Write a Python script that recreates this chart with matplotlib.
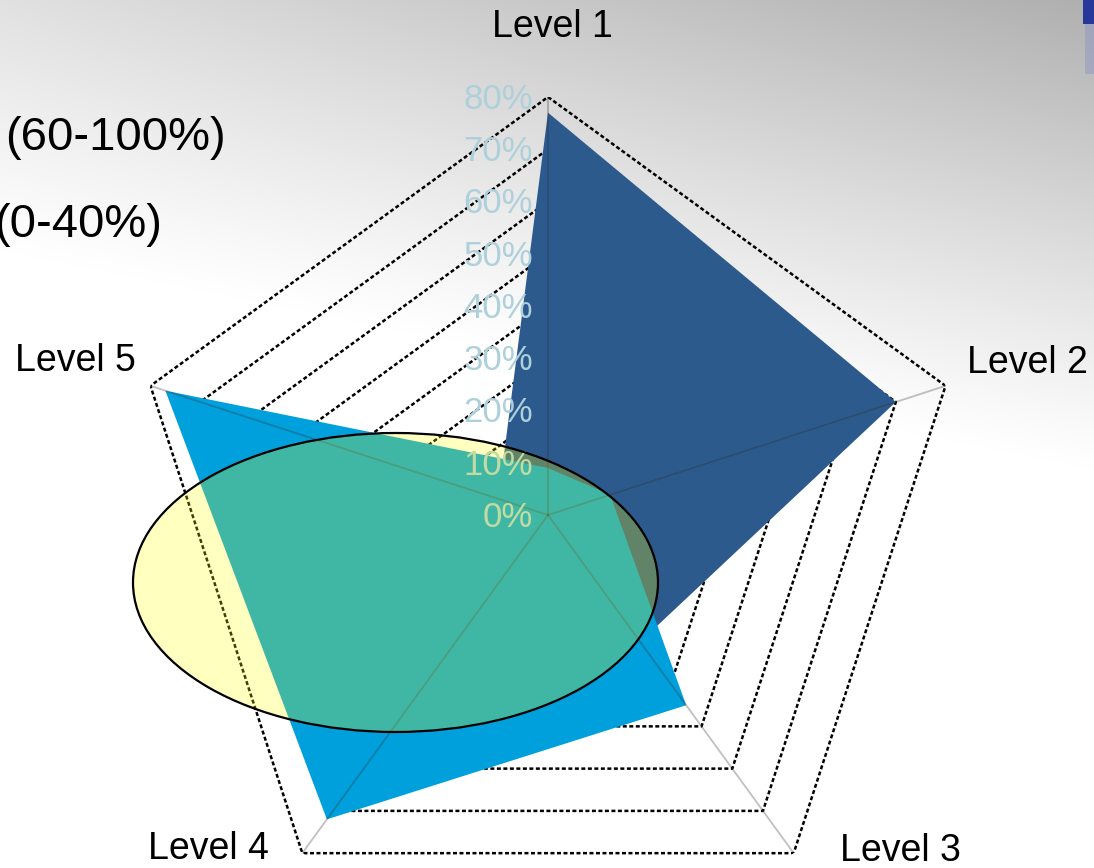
import matplotlib
matplotlib.use('Agg')
import matplotlib.pyplot as plt
from matplotlib.patches import Ellipse, Rectangle
import numpy as np

categories = ['Level 1', 'Level 2', 'Level 3', 'Level 4', 'Level 5']
ring_values = [0, 10, 20, 30, 40, 50, 60, 70, 80]
ring_labels = ['0%', '10%', '20%', '30%', '40%', '50%', '60%', '70%', '80%']
dark_series = [77, 70, 30, 10, 10]
light_series = [9, 12.5, 45, 72, 77]
range_notes = ['(60-100%)', '(0-40%)']

# pixel offsets of the category labels from their outer vertex
label_offsets = [(4, 60), (82, 13), (107, -8), (-94, -6), (-75, 15)]


def main():
    plt.rcParams['font.family'] = ['Liberation Sans', 'DejaVu Sans']

    w, h = 1094, 868
    cx, cy, radius = 548, 515, 418

    fig = plt.figure(figsize=(w / 100, h / 100), dpi=100)

    # background gradient, grey at the top fading to white
    bg = fig.add_axes([0, 0, 1, 1])
    bg.set_axis_off()
    ys, xs = np.mgrid[0:h, 0:w]
    limit = 250 + 0.2 * xs
    depth = 30 + 50 * xs / w
    t = np.clip(1 - ys / limit, 0, 1)
    val = (255 - depth * t ** 1.1) / 255
    bg.imshow(np.dstack([val, val, val]), extent=[0, w, h, 0], aspect='auto')
    bg.add_patch(Rectangle((1083, 0), 11, 24, color='#26399a', lw=0))
    bg.add_patch(Rectangle((1085, 24), 9, 50, color='#8f98c4', alpha=0.5, lw=0))
    bg.set_xlim(0, w)
    bg.set_ylim(h, 0)

    # radar chart
    ax = fig.add_axes([(cx - radius) / w, (h - cy - radius) / h, 2 * radius / w, 2 * radius / h],
                      projection='polar')
    ax.set_theta_zero_location('N')
    ax.set_theta_direction(-1)
    ax.set_ylim(0, 80)
    ax.grid(False)
    ax.set_xticks([])
    ax.set_yticks([])
    ax.spines['polar'].set_visible(False)
    ax.patch.set_alpha(0)

    angles = np.linspace(0, 2 * np.pi, len(categories), endpoint=False)
    closed = np.append(angles, angles[0])

    for v in ring_values[1:]:
        ax.plot(closed, [v] * len(closed), color='#000000', lw=1.8,
                ls=(0, (1.6, 1.0)), zorder=1)

    ax.fill(closed, dark_series + dark_series[:1], color='#2d5a8c', lw=0, zorder=2)
    ax.fill(closed, light_series + light_series[:1], color='#00a0dc', lw=0, zorder=3)

    for a in angles:
        ax.plot([a, a], [0, ring_values[-1]], color='#303030', alpha=0.3, lw=1.3, zorder=4)

    for v, lab in zip(ring_values, ring_labels):
        ax.annotate(lab, xy=(0, v), xytext=(-15, -12), textcoords='offset pixels',
                    ha='right', va='baseline', fontsize=25, color='#aed0da', zorder=5)

    for a, name, off in zip(angles, categories, label_offsets):
        ax.annotate(name, xy=(a, ring_values[-1]), xytext=off, textcoords='offset pixels',
                    ha='center', va='baseline', fontsize=27, color='black',
                    annotation_clip=False)

    # highlight ellipse on top
    ov = fig.add_axes([0, 0, 1, 1])
    ov.set_axis_off()
    ov.set_xlim(0, w)
    ov.set_ylim(h, 0)
    ov.add_patch(Ellipse((395.5, 582.5), 525, 299, facecolor=(1, 1, 0, 0.25),
                         edgecolor='black', lw=1.6))

    fig.text(5 / w, 1 - 150 / h, range_notes[0], ha='left', va='baseline', fontsize=34)
    fig.text(162 / w, 1 - 237 / h, range_notes[1], ha='right', va='baseline', fontsize=34)

    fig.savefig('out.png', dpi=100)


if __name__ == '__main__':
    main()
